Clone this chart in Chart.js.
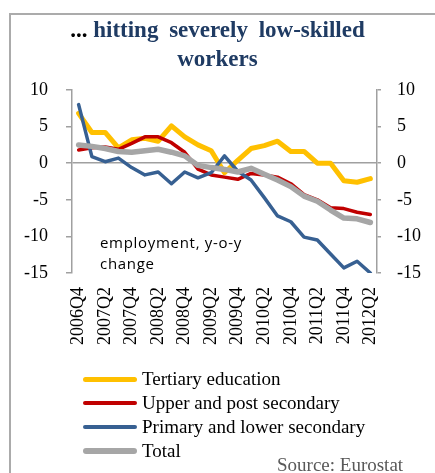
<!DOCTYPE html>
<html>
<head>
<meta charset="utf-8">
<script src="https://cdn.jsdelivr.net/npm/chart.js@4.4.1/dist/chart.umd.min.js"></script>
<style>
  html, body { margin: 0; padding: 0; background: #fff; }
  #wrap { position: relative; width: 435px; height: 473px; overflow: hidden; }
  #frame { position: absolute; left: 9px; top: 13px; width: 500px; height: 500px;
           border: 2px solid #ababab; box-sizing: border-box; }
  canvas { position: absolute; left: 0; top: 0; }
  #title { position: absolute; left: 0; top: 15px; width: 435px; text-align: center;
           font: bold 23px "Liberation Serif", "Times New Roman", serif; line-height: 29px;
           color: #1f3b63; }
  #title .dots { color: #000; }
  #title .wide { word-spacing: 5px; }
  #note { position: absolute; left: 100px; top: 232px; font: 15px "Open Sans", sans-serif;
          line-height: 21px; letter-spacing: 0.7px; color: #000; }
  #legend { position: absolute; left: 83px; top: 367px; }
  .item { height: 24px; display: flex; align-items: center;
          font: 19px "Liberation Serif", "Times New Roman", serif; color: #000; white-space: nowrap; }
  .swatch { width: 54px; border-radius: 3px; margin-right: 5px; }
  #source { position: absolute; left: 277px; top: 454px; line-height: 22px;
            font: 19px "Liberation Serif", "Times New Roman", serif; color: #595959; }
</style>
</head>
<body>
<div id="wrap">
  <div id="frame"></div>
  <canvas id="chart" width="435" height="473"></canvas>
  <div id="title"><span class="dots">...</span> <span class="wide">hitting severely low-skilled</span><br>workers</div>
  <div id="note">employment, y-o-y<br>change</div>
  <div id="legend"></div>
  <div id="source">Source: Eurostat</div>
</div>
<script>
// Quarterly year-on-year employment change (%) by education level
const quarters = ['2006Q4','2007Q1','2007Q2','2007Q3','2007Q4','2008Q1','2008Q2','2008Q3',
  '2008Q4','2009Q1','2009Q2','2009Q3','2009Q4','2010Q1','2010Q2','2010Q3','2010Q4',
  '2011Q1','2011Q2','2011Q3','2011Q4','2012Q1','2012Q2'];

const tertiary = [6.8, 4.2, 4.2, 2.1, 3.2, 3.4, 3.0, 5.1, 3.6, 2.5, 1.7, -1.3, 0.4, 2.0, 2.4,
  3.0, 1.6, 1.6, 0.0, 0.0, -2.4, -2.6, -2.1];
const upperSecondary = [1.8, 2.1, 2.2, 1.9, 2.7, 3.6, 3.6, 2.8, 1.5, -0.8, -1.6, -1.9, -2.2,
  -1.4, -1.6, -1.9, -2.8, -4.3, -5.0, -6.1, -6.2, -6.7, -7.0];
const primaryLower = [8.0, 0.9, 0.2, 0.7, -0.6, -1.6, -1.2, -2.8, -1.2, -2.0, -1.3, 1.0, -1.1,
  -2.3, -4.7, -7.2, -8.0, -10.1, -10.5, -12.4, -14.3, -13.4, -15.0];
const total = [2.5, 2.3, 2.0, 1.6, 1.5, 1.7, 1.9, 1.5, 1.0, -0.3, -0.6, -0.85, -1.2, -0.7,
  -1.5, -2.3, -3.2, -4.5, -5.2, -6.4, -7.5, -7.6, -8.1];

const seriesNames = ['Tertiary education', 'Upper and post secondary',
  'Primary and lower secondary', 'Total'];
const yTicks = { min: -15, max: 10, step: 5 };

const axisGray = '#a0a0a0';
const tickFont = { family: '"Liberation Serif", "Times New Roman", serif', size: 18 };

function series(label, data, color, width, order) {
  return {
    label, data, borderColor: color, backgroundColor: color, borderWidth: width,
    pointRadius: 0, pointHoverRadius: 0, tension: 0, fill: false,
    borderJoinStyle: 'round', borderCapStyle: 'round', order
  };
}

const chart = new Chart(document.getElementById('chart'), {
  type: 'line',
  data: {
    labels: quarters,
    datasets: [
      series(seriesNames[0], tertiary, '#ffc000', 5, 4),
      series(seriesNames[1], upperSecondary, '#c00000', 3.5, 3),
      series(seriesNames[2], primaryLower, '#376092', 3.5, 2),
      series(seriesNames[3], total, '#a6a6a6', 5.5, 1)
    ]
  },
  options: {
    responsive: false,
    animation: false,
    devicePixelRatio: 1,
    layout: { padding: { top: 90, left: 0, right: 0, bottom: 0 } },
    plugins: { legend: { display: false }, tooltip: { enabled: false }, title: { display: false } },
    scales: {
      x: {
        offset: true,
        border: { display: false },
        grid: { display: false, drawTicks: false },
        ticks: {
          autoSkip: false, minRotation: 90, maxRotation: 90, padding: 14,
          color: '#000', font: tickFont,
          callback: (v, i) => (i % 2 === 0 ? quarters[i] : '')
        },
        afterFit(s) { s.height = 200; }
      },
      y: {
        position: 'left',
        min: yTicks.min, max: yTicks.max,
        border: { display: true, color: axisGray, width: 1.5 },
        grid: {
          display: true, drawTicks: true, tickLength: 6, lineWidth: 1.5,
          color: c => (c.tick && c.tick.value === 0 ? axisGray : 'rgba(0,0,0,0)'),
          tickColor: axisGray
        },
        ticks: { stepSize: yTicks.step, padding: 18, color: '#000', font: tickFont },
        afterFit(s) { s.width = 72; }
      },
      y2: {
        position: 'right',
        min: yTicks.min, max: yTicks.max,
        border: { display: true, color: axisGray, width: 1.5 },
        grid: { display: true, drawOnChartArea: false, drawTicks: true, tickLength: 4,
                lineWidth: 1.5, tickColor: axisGray },
        ticks: { stepSize: yTicks.step, padding: 16, color: '#000', font: tickFont },
        afterFit(s) { s.width = 58; }
      }
    }
  }
});

// Legend rows built from the chart's datasets, one per line
const legend = document.getElementById('legend');
chart.data.datasets.forEach(ds => {
  const row = document.createElement('div');
  row.className = 'item';
  const sw = document.createElement('span');
  sw.className = 'swatch';
  sw.style.background = ds.borderColor;
  sw.style.height = ds.borderWidth + 'px';
  const txt = document.createElement('span');
  txt.textContent = ds.label;
  row.appendChild(sw);
  row.appendChild(txt);
  legend.appendChild(row);
});
</script>
</body>
</html>
